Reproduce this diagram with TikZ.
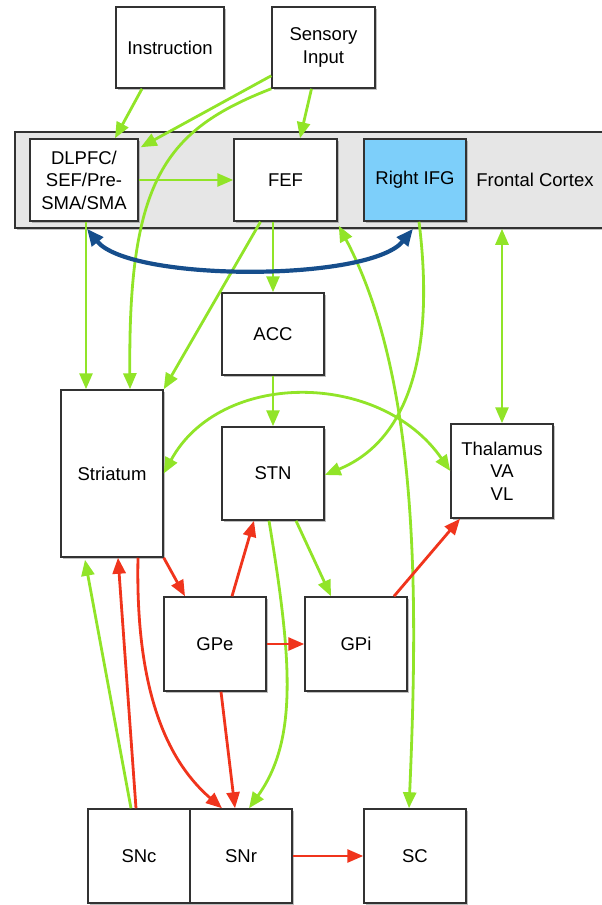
\documentclass[tikz,border=0pt]{standalone}
\usepackage{fontspec}
\setmainfont{Liberation Sans}
\usetikzlibrary{arrows.meta,shadows,calc}
\definecolor{lgreen}{RGB}{145,228,40}
\definecolor{lred}{RGB}{240,52,28}
\definecolor{dblue}{RGB}{22,78,140}
\definecolor{ifgblue}{RGB}{125,207,250}
\definecolor{bandgray}{RGB}{230,230,230}
\definecolor{edge}{RGB}{50,50,50}
\tikzset{
  box/.style={draw=edge, line width=1.5pt, fill=white, align=center,
    inner sep=0pt, font=\fontsize{18.5}{22.5}\selectfont,
    drop shadow={shadow xshift=1.5pt, shadow yshift=-1.5pt, opacity=0.5}},
  tipg/.style={-{Triangle[length=16pt,width=13pt]}},
  gline/.style={draw=lgreen, line width=2.8pt, tipg, color=lgreen},
  rline/.style={draw=lred, line width=2.8pt, tipg, color=lred},
  gboth/.style={draw=lgreen, line width=2.8pt, color=lgreen, {Triangle[length=16pt,width=13pt]}-{Triangle[length=16pt,width=13pt]}},
  bline/.style={draw=dblue, line width=4.2pt, color=dblue, {Triangle[length=17pt,width=14pt]}-{Triangle[length=17pt,width=14pt]}},
}
\begin{document}
\begin{tikzpicture}[x=1pt,y=-1pt]
\useasboundingbox (0,0) rectangle (602,905);
% frontal cortex band
\node[draw=edge, line width=1.5pt, fill=bandgray, minimum width=592pt, minimum height=96pt, inner sep=0pt,
  drop shadow={shadow xshift=1.5pt, shadow yshift=-1.5pt, opacity=0.5}] (band) at (311,180) {};
\node[font=\fontsize{18.5}{22.5}\selectfont] (fc) at (535,180) {Frontal Cortex};
% boxes
\node[box, minimum width=108pt, minimum height=81pt] (instr) at (170,47.5) {Instruction};
\node[box, minimum width=103pt, minimum height=81pt] (sens) at (323.5,47.5) {Sensory\\Input};
\node[box, minimum width=108pt, minimum height=82pt] (dlpfc) at (84,180) {DLPFC/\\SEF/Pre-\\SMA/SMA};
\node[box, minimum width=103pt, minimum height=82pt] (fef) at (285.5,180) {FEF};
\node[box, fill=ifgblue, minimum width=102pt, minimum height=82pt] (rifg) at (415,180) {Right IFG};
\node[box, minimum width=102pt, minimum height=82pt] (acc) at (273,334) {ACC};
\node[box, minimum width=102pt, minimum height=167pt] (str) at (112,473.5) {Striatum};
\node[box, minimum width=102pt, minimum height=93pt] (stn) at (273,473.5) {STN};
\node[box, minimum width=102pt, minimum height=94pt] (thal) at (502,471) {Thalamus\\VA\\VL};
\node[box, minimum width=102pt, minimum height=94pt] (gpe) at (215,644) {GPe};
\node[box, minimum width=102pt, minimum height=94pt] (gpi) at (356,644) {GPi};
\node[box, minimum width=102pt, minimum height=94pt] (snc) at (139,856) {SNc};
\node[box, minimum width=102pt, minimum height=94pt] (snr) at (241,856) {SNr};
\node[box, minimum width=102pt, minimum height=94pt] (sc) at (415,856) {SC};
% green connectors (top)
\draw[gline] ([xshift=-28pt]instr.south) -- ([xshift=31pt]dlpfc.north);
\draw[gline] ([yshift=13pt]sens.south west) -- ([xshift=2pt,yshift=-9pt]dlpfc.north east);
\draw[gline] (sens.south west) .. controls (165,130) and (128,180) .. ([xshift=18pt]str.north);
\draw[gline] ([xshift=-12pt]sens.south) -- ([xshift=14.5pt]fef.north);
\draw[gline] (dlpfc.east) -- (fef.west);
\draw[gline] ([xshift=2pt]dlpfc.south) -- ([xshift=-26pt]str.north);
\draw[gline] ([xshift=-12.5pt]fef.south) -- (acc.north);
\draw[gline] ([xshift=-25pt]fef.south) -- (str.north east);
\draw[gboth] ([xshift=1pt,yshift=-4pt]fef.south east) .. controls (420,380) and (418,600) .. ([xshift=-6pt]sc.north);
\draw[gline] ([xshift=4pt]rifg.south) .. controls (435,350) and (410,440) .. ([yshift=-1.5pt]stn.east);
\draw[gboth] (thal.north |- band.south) -- (thal.north);
\draw[gline] (acc.south) -- (stn.north);
\draw[gboth] (str.east) .. controls (220,370) and (380,370) .. (thal.west);
% blue
\draw[bline] ([xshift=3pt]dlpfc.south |- band.south) .. controls (130,282) and (370,282) .. ([xshift=-2pt]rifg.south |- band.south);
% lower connectors
\draw[rline] (str.south east) -- ([xshift=-30pt]gpe.north);
\draw[rline] ([xshift=17pt]gpe.north) -- ([xshift=-19pt]stn.south);
\draw[gline] ([xshift=23pt]stn.south) -- ([xshift=-25pt]gpi.north);
\draw[gline] ([xshift=-4pt]stn.south) .. controls (292,660) and (298,740) .. ([xshift=8pt]snr.north);
\draw[rline] ([xshift=38pt]gpi.north) -- ([xshift=-42pt]thal.south);
\draw[rline] (gpe.east) -- (gpi.west);
\draw[rline] ([xshift=6pt]gpe.south) -- ([xshift=-6pt]snr.north);
\draw[rline] ([xshift=26pt]str.south) .. controls (135,700) and (172,765) .. ([xshift=-19pt]snr.north);
\draw[rline] ([xshift=-3pt]snc.north) -- ([xshift=6pt]str.south);
\draw[gline] ([xshift=-8pt]snc.north) -- ([xshift=-27pt,yshift=-2pt]str.south);
\draw[rline] (snr.east) -- (sc.west);
\end{tikzpicture}
\end{document}
